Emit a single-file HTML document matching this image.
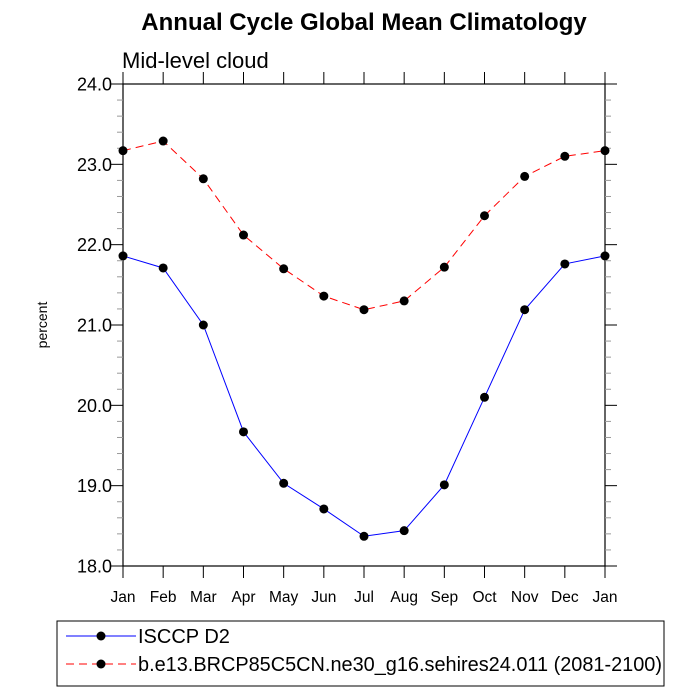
<!DOCTYPE html>
<html><head><meta charset="utf-8"><style>
body{margin:0;background:#fff;}
svg{display:block;font-family:"Liberation Sans",Arial,sans-serif;}
</style></head><body>
<svg id="chart" width="700" height="700" xmlns="http://www.w3.org/2000/svg">
<text x="364" y="30" font-size="24" font-weight="bold" text-anchor="middle">Annual Cycle Global Mean Climatology</text>
<text x="122" y="68" font-size="22">Mid-level cloud</text>
<text transform="translate(47,325) rotate(-90)" font-size="14" text-anchor="middle">percent</text>
<g id="axes"></g>
<g id="series"></g>
<rect x="57" y="621" width="607" height="65" fill="none" stroke="#000" stroke-width="1"/>
<g>
<line x1="66" y1="636" x2="136" y2="636" stroke="#0000ff" stroke-width="1"/>
<circle cx="101" cy="636" r="4.5" fill="#000"/>
<text x="138" y="643" font-size="20">ISCCP D2</text>
</g>
<g>
<line x1="66" y1="664" x2="136" y2="664" stroke="#ff0000" stroke-width="1" stroke-dasharray="8,5"/>
<circle cx="101" cy="664" r="4.5" fill="#000"/>
<text x="138" y="671" font-size="20" textLength="524" lengthAdjust="spacingAndGlyphs">b.e13.BRCP85C5CN.ne30_g16.sehires24.011 (2081-2100)</text>
</g>
</svg>
<script>
const months=["Jan","Feb","Mar","Apr","May","Jun","Jul","Aug","Sep","Oct","Nov","Dec","Jan"];
const yTicks=["18.0","19.0","20.0","21.0","22.0","23.0","24.0"];
const isccp=[21.86,21.71,21.00,19.67,19.03,18.71,18.37,18.44,19.01,20.10,21.19,21.76,21.86];
const model=[23.17,23.29,22.82,22.12,21.70,21.36,21.19,21.30,21.72,22.36,22.85,23.10,23.17];
const NS="http://www.w3.org/2000/svg";
const L=123,R=605,T=84,B=566,ymin=18,ymax=24;
function xs(i){return L+(R-L)*i/(months.length-1);}
function ys(v){return B-(B-T)*(v-ymin)/(ymax-ymin);}
function mk(tag,a,parent){const e=document.createElementNS(NS,tag);for(const k in a)e.setAttribute(k,a[k]);parent.appendChild(e);return e;}
const ax=document.getElementById('axes');
const frame=mk('rect',{x:L,y:T,width:R-L,height:B-T,fill:'none',stroke:'#000','stroke-width':1.2},ax);


months.forEach((m,i)=>{
  const x=xs(i);
  mk('line',{x1:x,y1:B,x2:x,y2:B+12,stroke:'#000'},ax);
  mk('line',{x1:x,y1:T,x2:x,y2:T-12,stroke:'#000'},ax);
  const t=mk('text',{x:x,y:B+36,'font-size':15.5,'text-anchor':'middle'},ax);
  t.textContent=m;
  
  
});
for(let v=ymin;v<=ymax+1e-9;v+=0.2){
  const y=ys(v);const major=Math.abs(v-Math.round(v))<1e-6;
  const len=major?12:6;
  mk('line',{x1:L,y1:y,x2:L-len,y2:y,stroke:major?'#000':'#999'},ax);
  mk('line',{x1:R,y1:y,x2:R+len,y2:y,stroke:major?'#000':'#999'},ax);
}
yTicks.forEach(s=>{
  const t=mk('text',{x:L-11,y:ys(parseFloat(s))+6.5,'font-size':18,'text-anchor':'end'},ax);
  t.textContent=s;
  
  
});
const sg=document.getElementById('series');
function draw(vals,color,dash,name){
  const g=mk('g',{},sg);
  
  
  const pts=vals.map((v,i)=>xs(i)+','+ys(v)).join(' ');
  const a={points:pts,fill:'none',stroke:color,'stroke-width':1};
  if(dash)a['stroke-dasharray']=dash;
  mk('polyline',a,g);
  vals.forEach((v,i)=>{
    const c=mk('circle',{cx:xs(i),cy:ys(v),r:4.5,fill:'#000'},g);
    
    
  });
}
draw(isccp,'#0000ff',null,'series-isccp');
draw(model,'#ff0000','8,5','series-model');
</script>
</body></html>
